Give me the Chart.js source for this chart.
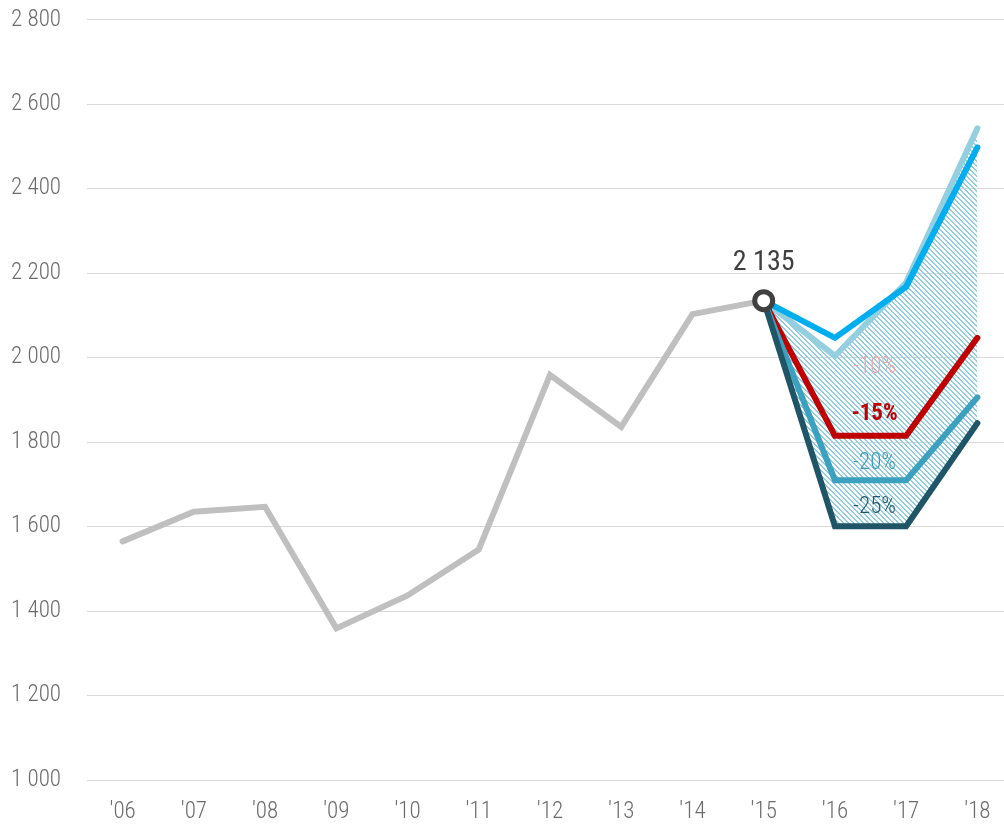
<!DOCTYPE html>
<html>
<head>
<meta charset="utf-8">
<script src="https://cdn.jsdelivr.net/npm/chart.js@4.4.1/dist/chart.umd.min.js"></script>
<style>
  html, body { margin: 0; padding: 0; background: #fff; overflow: hidden; }
  #wrap { position: absolute; left: 0; top: -20px; width: 1027px; height: 846px; }
</style>
</head>
<body>
<div id="wrap"><canvas id="chart" width="1027" height="846"></canvas></div>
<script>
const years = ["'06", "'07", "'08", "'09", "'10", "'11", "'12", "'13", "'14", "'15", "'16", "'17", "'18"];

const history = [1565, 1635, 1647, 1359, 1437, 1546, 1959, 1836, 2103, 2135, null, null, null];

// scenario lines start at the '15 value
const scenTop = [null, null, null, null, null, null, null, null, null, 2135, 2004, 2178, 2543];
const scenBlue = [null, null, null, null, null, null, null, null, null, 2135, 2047, 2168, 2498];
const scen15 = [null, null, null, null, null, null, null, null, null, 2135, 1815, 1815, 2047];
const scen20 = [null, null, null, null, null, null, null, null, null, 2135, 1710, 1710, 1906];
const scen25 = [null, null, null, null, null, null, null, null, null, 2135, 1601, 1601, 1845];

const scenLabels = ['-10%', '-15%', '-20%', '-25%'];
const scenLabelValues = [1978, 1865, 1750, 1645];
const scenLabelColors = ['#f4a3a3', '#c00000', '#3a9ab5', '#1f5566'];

const markerIndex = 9;
const markerData = years.map((y, i) => i === markerIndex ? history[i] : null);

const FONT = "'Roboto Condensed', 'Liberation Sans Narrow', 'DejaVu Sans Condensed', Roboto, sans-serif";

function fmt(v) {
    return String(v).replace(/\B(?=(\d{3})+(?!\d))/g, ' ');
}

// crisp pixel hatch, stripes running down to the right
function makeHatch(ctx) {
    const s = 5;
    const c = document.createElement('canvas');
    c.width = s; c.height = s;
    const g = c.getContext('2d');
    g.fillStyle = '#92cde0';
    for (let py = 0; py < s; py++) {
        for (let px = 0; px < s; px++) {
            const d = ((px - py) % s + s) % s;
            if (d === 0 || d === 1) g.fillRect(px, py, 1, 1);
        }
    }
    return ctx.createPattern(c, 'repeat');
}

// text labels: "2 135" above the marker and the scenario percentages
const labelPlugin = {
    id: 'labels',
    afterDatasetsDraw(chart) {
        const { ctx, scales: { x, y } } = chart;
        ctx.save();
        ctx.textAlign = 'center';
        ctx.textBaseline = 'middle';

        ctx.font = '400 28px ' + FONT;
        ctx.fillStyle = '#404040';
        ctx.fillText(fmt(history[markerIndex]), x.getPixelForValue(markerIndex), y.getPixelForValue(history[markerIndex]) - 38);

        const lx = (x.getPixelForValue(10) + x.getPixelForValue(11)) / 2 + 4;
        scenLabels.forEach((t, i) => {
            ctx.font = (i === 1 ? 'bold ' : '300 ') + '23px ' + FONT;
            ctx.fillStyle = scenLabelColors[i];
            ctx.fillText(t, lx, y.getPixelForValue(scenLabelValues[i]));
        });
        ctx.restore();
    }
};

const ctx = document.getElementById('chart').getContext('2d');
const hatch = makeHatch(ctx);

new Chart(ctx, {
    type: 'line',
    data: {
        labels: years,
        datasets: [
            { data: markerData, showLine: false, pointRadius: 9, pointBorderWidth: 5,
              pointBackgroundColor: '#fff', pointBorderColor: '#404040', order: 0 },
            { data: scen25, borderColor: '#1f5566', borderWidth: 6, pointRadius: 0,
              fill: { target: 6 }, backgroundColor: hatch, order: 1 },
            { data: scen20, borderColor: '#3ba1bf', borderWidth: 6, pointRadius: 0, fill: false, order: 2 },
            { data: scen15, borderColor: '#c00000', borderWidth: 6, pointRadius: 0, fill: false, order: 3 },
            { data: scenBlue, borderColor: '#00aeef', borderWidth: 6, pointRadius: 0, fill: false, order: 4 },
            { data: history, borderColor: '#bfbfbf', borderWidth: 6, pointRadius: 0, fill: false, order: 6 },
            { data: scenTop, borderColor: '#94cfe0', borderWidth: 6, pointRadius: 0, fill: false, order: 5 }
        ]
    },
    options: {
        responsive: false,
        animation: false,
        layout: { padding: 0 },
        plugins: {
            legend: { display: false },
            tooltip: { enabled: false },
            filler: { drawTime: 'beforeDatasetsDraw' }
        },
        elements: { line: { tension: 0, borderJoinStyle: 'miter', borderCapStyle: 'round' } },
        scales: {
            x: {
                offset: true,
                grid: { display: false, drawTicks: false },
                border: { display: false },
                ticks: { color: '#6b6b6b', font: { family: FONT, size: 23, weight: '300' }, padding: 18, maxRotation: 0, autoSkip: false },
                afterFit(scale) { scale.height = 46; }
            },
            y: {
                min: 1000,
                max: 2800,
                grid: { color: '#d9d9d9', lineWidth: 1, drawTicks: false },
                border: { display: false },
                ticks: {
                    stepSize: 200,
                    color: '#6b6b6b',
                    font: { family: FONT, size: 23, weight: '300' },
                    padding: 26,
                    callback: v => fmt(v)
                },
                afterFit(scale) { scale.width = 87; }
            }
        }
    },
    plugins: [labelPlugin]
});
</script>
</body>
</html>
